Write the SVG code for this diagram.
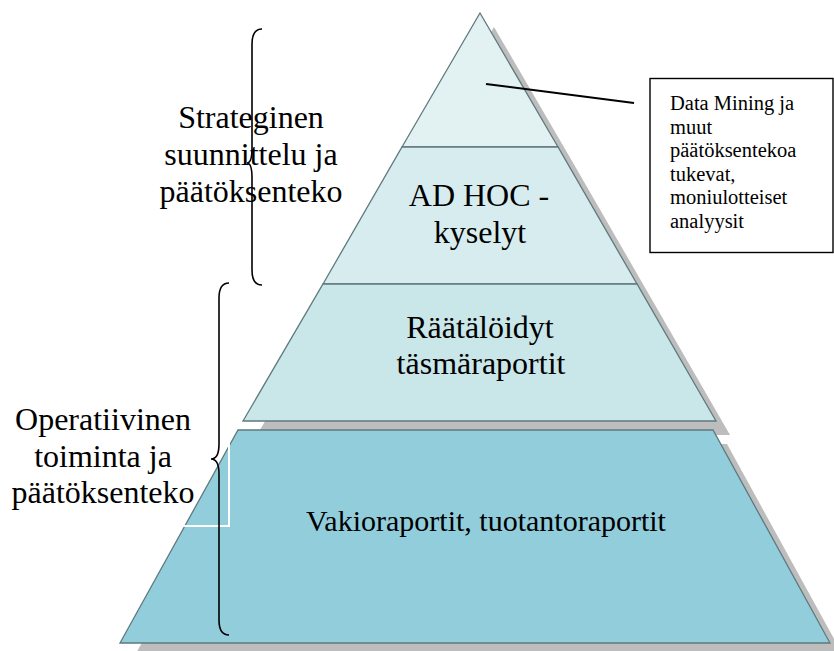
<svg xmlns="http://www.w3.org/2000/svg" xmlns:xlink="http://www.w3.org/1999/xlink" width="834" height="651" viewBox="0 0 834 651">
<style>
  .tier { stroke: #5f7a7e; stroke-width: 1.3; }
  .shadow { fill: #bdbdbd; stroke: none; }
  .lbl { font-family: "Liberation Serif", "Times New Roman", serif; font-size: 32px; fill: #000; text-anchor: middle; }
  .small { font-family: "Liberation Serif", "Times New Roman", serif; font-size: 20.5px; fill: #000; }
  .brace { fill: none; stroke: #000; stroke-width: 1.6; }
</style>
<defs>
  <polygon id="p1" points="480,13 558,147 402,147"/>
  <polygon id="p2" points="402,147 558,147 637,284 323,284"/>
  <polygon id="p3" points="323,284 637,284 716,421 243,421"/>
  <polygon id="p4" points="238,430 713,430 830,643 120,643"/>
</defs>
<rect width="834" height="651" fill="#fff"/>

<g id="shadows" class="shadow" transform="translate(14,14)">
  <use xlink:href="#p1"/>
  <use xlink:href="#p2"/>
  <use xlink:href="#p3"/>
  <use xlink:href="#p4"/>
</g>

<g id="tier1">
  <use xlink:href="#p1" class="tier" fill="#e2f2f3"/>
</g>
<g id="tier2">
  <use xlink:href="#p2" class="tier" fill="#d7ecef"/>
  <text class="lbl" x="479" y="206">AD HOC -</text>
  <text class="lbl" x="480" y="243">kyselyt</text>
</g>
<g id="tier3">
  <use xlink:href="#p3" class="tier" fill="#c9e6e9"/>
  <text class="lbl" x="480" y="338">Räätälöidyt</text>
  <text class="lbl" x="481" y="374">täsmäraportit</text>
</g>
<g id="tier4">
  <use xlink:href="#p4" class="tier" fill="#92cddc"/>
  <text class="lbl" x="486" y="531" style="font-size:30px">Vakioraportit, tuotantoraportit</text>
</g>

<g id="label-strategic">
  <text class="lbl" x="251" y="128">Strateginen</text>
  <text class="lbl" x="251" y="165">suunnittelu ja</text>
  <text class="lbl" x="251" y="202">päätöksenteko</text>
  <path class="brace" d="M262,29 Q252,29 252,44 L252,148 Q252,163 247,163 Q252,163 252,178 L252,270 Q252,285 262,285"/>
</g>

<g id="label-operative">
  <rect x="5" y="390" width="224" height="136" fill="none" stroke="#fff" stroke-width="2"/>
  <text class="lbl" x="103" y="430">Operatiivinen</text>
  <text class="lbl" x="103" y="467">toiminta ja</text>
  <text class="lbl" x="103" y="503">päätöksenteko</text>
  <path class="brace" d="M229,283 Q219,283 219,298 L219,444 Q219,459 211,459 Q219,459 219,474 L219,620 Q219,635 229,635"/>
</g>

<g id="callout">
  <rect x="650" y="78.5" width="183" height="174" fill="#fff" stroke="#000" stroke-width="1.4"/>
  <text class="small" x="670" y="110">Data Mining ja</text>
  <text class="small" x="670" y="133.5">muut</text>
  <text class="small" x="670" y="157">päätöksentekoa</text>
  <text class="small" x="670" y="180.5">tukevat,</text>
  <text class="small" x="670" y="204">moniulotteiset</text>
  <text class="small" x="670" y="227.5">analyysit</text>
</g>

<g id="connectors">
  <line x1="486" y1="84" x2="634" y2="103" stroke="#000" stroke-width="2"/>
</g>
</svg>
